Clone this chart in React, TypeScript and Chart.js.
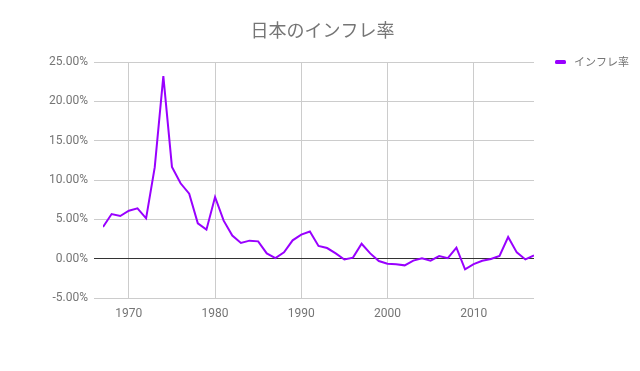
import React, { useEffect, useRef } from "react";
import { Chart, registerables } from "chart.js";

Chart.register(...registerables);

const TITLE = "日本のインフレ率";
const SERIES_NAME = "インフレ率";
const YEARS = [
  1967, 1968, 1969, 1970, 1971, 1972, 1973, 1974, 1975, 1976, 1977, 1978, 1979,
  1980, 1981, 1982, 1983, 1984, 1985, 1986, 1987, 1988, 1989, 1990, 1991, 1992,
  1993, 1994, 1995, 1996, 1997, 1998, 1999, 2000, 2001, 2002, 2003, 2004, 2005,
  2006, 2007, 2008, 2009, 2010, 2011, 2012, 2013, 2014, 2015, 2016, 2017,
];
const INFLATION = [
  4.02, 5.67, 5.42, 6.1, 6.4, 5.13, 11.6, 23.2, 11.66, 9.58, 8.27, 4.49, 3.69,
  7.84, 4.83, 2.93, 1.99, 2.29, 2.2, 0.67, 0.08, 0.8, 2.33, 3.05, 3.45, 1.62,
  1.35, 0.67, -0.1, 0.13, 1.9, 0.67, -0.3, -0.65, -0.7, -0.85, -0.25, 0.05,
  -0.25, 0.33, 0.06, 1.4, -1.35, -0.7, -0.27, -0.05, 0.35, 2.75, 0.8, -0.1, 0.4,
];
const X_TICKS = [1970, 1980, 1990, 2000, 2010];
const Y_MIN = -5;
const Y_MAX = 25;
const Y_STEP = 5;
const X_MIN = 1967;
const X_MAX = 2017;

const LINE_COLOR = "#9900ff";
const TEXT_COLOR = "#757575";

const overlayPlugin = {
  id: "overlay",
  afterDraw(chart: any) {
    const ctx = chart.ctx;
    ctx.save();
    // title
    ctx.fillStyle = TEXT_COLOR;
    ctx.font = "18px 'Noto Sans CJK JP'";
    ctx.textAlign = "center";
    ctx.textBaseline = "middle";
    ctx.fillText(TITLE, 322.5, 30);
    // legend
    ctx.fillStyle = LINE_COLOR;
    ctx.beginPath();
    if ((ctx as any).roundRect) (ctx as any).roundRect(555, 60, 11, 4, 1.5);
    else ctx.rect(555, 60, 11, 4);
    ctx.fill();
    ctx.fillStyle = TEXT_COLOR;
    ctx.font = "11px 'Noto Sans CJK JP'";
    ctx.textAlign = "left";
    ctx.fillText(SERIES_NAME, 574, 62);
    ctx.restore();
  },
};

export default function App() {
  const ref = useRef<HTMLCanvasElement>(null);
  useEffect(() => {
    if (!ref.current) return;
    const chart = new Chart(ref.current, {
      type: "line",
      data: {
        datasets: [
          {
            label: SERIES_NAME,
            data: YEARS.map((y, i) => ({ x: y, y: INFLATION[i] })),
            borderColor: LINE_COLOR,
            backgroundColor: LINE_COLOR,
            borderWidth: 2,
            pointRadius: 0,
            tension: 0,
          },
        ],
      },
      options: {
        animation: false,
        responsive: false,
        layout: { padding: { top: 62, right: 106, bottom: 0, left: 0 } },
        plugins: {
          legend: { display: false },
          title: { display: false },
          tooltip: { enabled: false },
        },
        scales: {
          x: {
            type: "linear",
            min: X_MIN,
            max: X_MAX,
            border: { display: false },
            grid: { color: "#cccccc", drawTicks: false, lineWidth: 1 },
            afterFit: (s: any) => {
              s.height = 73;
            },
            afterBuildTicks: (s: any) => {
              s.ticks = X_TICKS.map((v) => ({ value: v }));
            },
            ticks: {
              padding: 9,
              color: TEXT_COLOR,
              font: { family: "Roboto", size: 12 },
              maxRotation: 0,
              autoSkip: false,
              callback: (v: any) => String(v),
            },
          },
          y: {
            min: Y_MIN,
            max: Y_MAX,
            border: { display: false },
            grid: {
              color: (c: any) => (c.tick && c.tick.value === 0 ? "#333333" : "#cccccc"),
              tickLength: 9,
              lineWidth: 1,
            },
            afterFit: (s: any) => {
              s.width = 103;
            },
            ticks: {
              stepSize: Y_STEP,
              padding: 6,
              color: TEXT_COLOR,
              font: { family: "Roboto", size: 12 },
              callback: (v: any) => Number(v).toFixed(2) + "%",
            },
          },
        },
      },
      plugins: [overlayPlugin],
    });
    return () => chart.destroy();
  }, []);
  return (
    <canvas
      ref={ref}
      width={640}
      height={371}
      style={{ position: "fixed", left: 0, top: 0, width: 640, height: 371, background: "#fff" }}
    />
  );
}
